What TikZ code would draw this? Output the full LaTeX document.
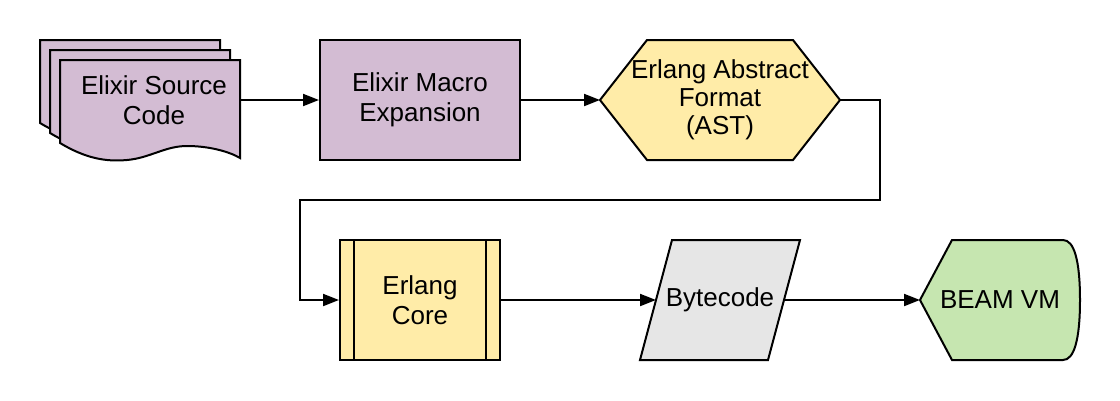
\documentclass[tikz,border=0pt]{standalone}
\usepackage{fontspec}
\setmainfont{Liberation Sans}
\usetikzlibrary{arrows.meta}
\definecolor{purp}{HTML}{D3BCD3}
\definecolor{yel}{HTML}{FFECA8}
\definecolor{gry}{HTML}{E6E6E6}
\definecolor{grn}{HTML}{C6E6B0}
\begin{document}
\begin{tikzpicture}[x=1pt,y=-1pt,line join=miter]
\tikzset{
  shp/.style={draw=black, line width=2pt},
  lbl/.style={font=\fontsize{26}{30}\selectfont, align=center, text=black},
  conn/.style={draw=black, line width=2pt, -{Triangle[length=16pt,width=12pt]}}
}
\useasboundingbox (0,0) rectangle (1120,400);
% multi-document
\foreach \o in {20,10,0}{
  \path[shp, fill=purp, shift={(-\o,-\o)}] (60,60) -- (240,60) -- (240,158)
    .. controls (230,152) and (210,146) .. (187,146)
    .. controls (165,146) and (150,158) .. (127,160)
    .. controls (105,162) and (85,158) .. (60,143) -- cycle;
}
\node[lbl] (src) at (154,100) {Elixir Source\\Code};
\coordinate (srcE) at (240,100);
% macro expansion
\node[shp, fill=purp, minimum width=200pt, minimum height=120pt, lbl] (macro) at (420,100) {Elixir Macro\\Expansion};
% hexagon
\path[shp, fill=yel] (600,100) -- (647,40) -- (793,40) -- (840,100) -- (793,160) -- (647,160) -- cycle;
\node[lbl, font=\fontsize{26}{28}\selectfont] (ast) at (720,100) {Erlang Abstract\\Format\\(AST)};
\coordinate (astW) at (600,100);
\coordinate (astE) at (840,100);
% erlang core
\node[shp, fill=yel, minimum width=160pt, minimum height=120pt, lbl] (core) at (420,300) {Erlang\\Core};
\draw[shp] ([xshift=15pt]core.north west) -- ([xshift=15pt]core.south west);
\draw[shp] ([xshift=-15pt]core.north east) -- ([xshift=-15pt]core.south east);
% bytecode
\path[shp, fill=gry] (672,240) -- (800,240) -- (768,360) -- (640,360) -- cycle;
\node[lbl] (bc) at (720,300) {Bytecode};
\coordinate (bcW) at (656,300);
\coordinate (bcE) at (784,300);
% beam vm
\path[shp, fill=grn] (920,300) -- (952,240) -- (1063,240)
  .. controls (1074,240) and (1080,260) .. (1080,300)
  .. controls (1080,340) and (1074,360) .. (1063,360) -- (952,360) -- cycle;
\node[lbl] (beam) at (1000,300) {BEAM VM};
\coordinate (beamW) at (920,300);
% connectors
\coordinate (b1) at (880,200);
\coordinate (b2) at (300,200);
\draw[conn] (srcE) -- (macro.west);
\draw[conn] (macro.east) -- (astW);
\draw[conn] (astE) -| (b1) -- (b2) |- (core.west);
\draw[conn] (core.east) -- (bcW);
\draw[conn] (bcE) -- (beamW);
\end{tikzpicture}
\end{document}
